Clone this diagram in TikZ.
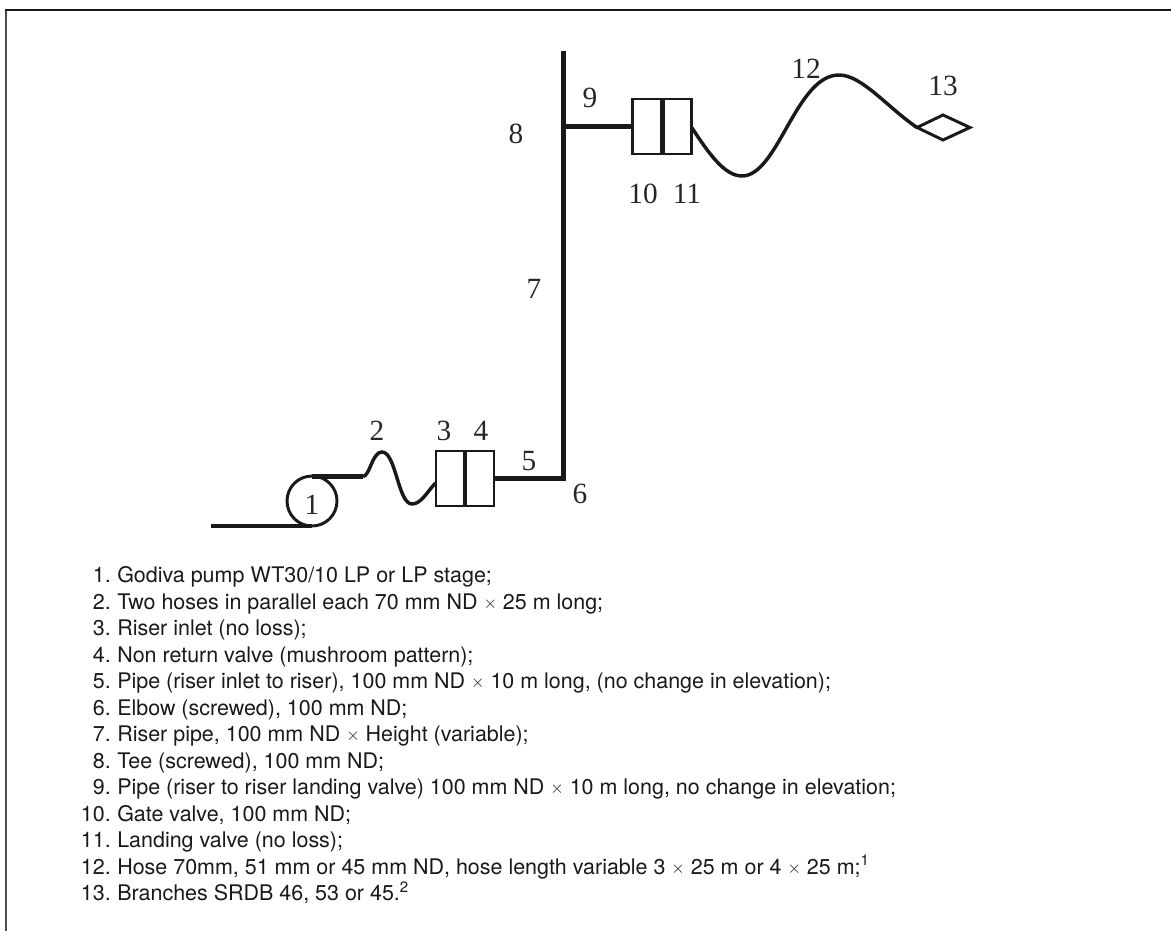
\documentclass[tikz,border=0pt]{standalone}
\usepackage{fontspec}
\usepackage{graphicx}
\setmainfont{Liberation Serif}
\newfontfamily\listfont{TeX Gyre Heros}
\newcommand{\tms}{\raisebox{0.05ex}{\scalebox{0.75}{$\times$}}}
\tikzset{
  x=0.75pt,y=-0.75pt,
  pipe/.style={line width=3.4pt,draw=black!90,line cap=butt,line join=miter},
  hose/.style={line width=2.6pt,draw=black!90},
  boxline/.style={line width=2.2pt,draw=black!90},
  num/.style={inner sep=0pt,font=\fontsize{22}{22}\selectfont,text=black!85},
  item/.style={inner sep=0pt,anchor=base west,font=\listfont\fontsize{16.1}{18}\selectfont,text=black!90},
  itemnum/.style={inner sep=0pt,anchor=base east,font=\listfont\fontsize{16.1}{18}\selectfont,text=black!90},
}
\begin{document}
\begin{tikzpicture}
\useasboundingbox (0,0) rectangle (1171,931);
\draw[line width=1.5pt,draw=black!70] (5.5,931) -- (5.5,10);
\draw[line width=1.3pt,draw=black!90] (5,10) -- (1171,10);
% pump
\node[draw=black!90,line width=2.2pt,circle,minimum size=50*0.75pt,inner sep=0pt] (pump) at (312,501) {};
\coordinate (inA) at (211,526);
\coordinate (inB) at (312,526);
\coordinate (outA) at (312,476.5);
\coordinate (outB) at (363,476.5);
\draw[pipe] (inA) -- (inB);
\draw[pipe] (outA) -- (outB);
% boxes
\node[draw=black!90,boxline,minimum width=29*0.75pt,minimum height=55*0.75pt,inner sep=0pt] (b3) at (450.5,478.5) {};
\node[draw=black!90,boxline,minimum width=29*0.75pt,minimum height=55*0.75pt,inner sep=0pt] (b4) at (479.5,478.5) {};
\node[draw=black!90,boxline,minimum width=29.5*0.75pt,minimum height=55*0.75pt,inner sep=0pt] (b10) at (647.5,126.5) {};
\node[draw=black!90,boxline,minimum width=29.5*0.75pt,minimum height=55*0.75pt,inner sep=0pt] (b11) at (677,126.5) {};
\draw[pipe] (465,451) -- (465,506);
\draw[pipe] (662.3,99) -- (662.3,154);
% hose 2
\draw[hose] (outB) .. controls (370,476) and (372,452) .. (382,452)
  .. controls (396,452) and (398,504) .. (412,504)
  .. controls (421,504) and (427,492) .. (435.5,483);
% riser
\coordinate (elbow) at (563.5,478.5);
\coordinate (top) at (563.5,51);
\coordinate (tee) at (563.5,126.5);
\draw[pipe] (b4.east) -- (elbow) -- (top);
\draw[pipe] (tee) -- (b10.west);
% hose 12
\coordinate (dw) at (917,127.5);
\draw[hose] (692,128) .. controls (708,152) and (724,176) .. (742,176)
  .. controls (778,176) and (796,75) .. (839,75)
  .. controls (862,75) and (888,108) .. (dw);
% diamond
\draw[boxline,line join=miter] (dw) -- (943,115) -- (970,127.5) -- (943,140) -- cycle;
% labels
\node[num] (n1) at (312,505) {1};
\node[num] (n2) at (377,431) {2};
\node[num] (n3) at (444,431) {3};
\node[num] (n4) at (481,431) {4};
\node[num] (n5) at (529,461) {5};
\node[num] (n6) at (580,494) {6};
\node[num] (n7) at (534,289) {7};
\node[num] (n8) at (516,134) {8};
\node[num] (n9) at (590,98) {9};
\node[num] (n10) at (643,194) {10};
\node[num] (n11) at (687,194) {11};
\node[num] (n12) at (806,69) {12};
\node[num] (n13) at (943,86) {13};
% list
\foreach \k/\yy/\tx in {
 1/582.5/{Godiva pump WT30/10 LP or LP stage;},
 2/609/{Two hoses in parallel each 70 mm ND \tms{} 25 m long;},
 3/635.5/{Riser inlet (no loss);},
 4/662/{Non return valve (mushroom pattern);},
 5/688.5/{Pipe (riser inlet to riser), 100 mm ND \tms{} 10 m long, (no change in elevation);},
 6/715/{Elbow (screwed), 100 mm ND;},
 7/741.5/{Riser pipe, 100 mm ND \tms{} Height (variable);},
 8/768/{Tee (screwed), 100 mm ND;},
 9/794.5/{Pipe (riser to riser landing valve) 100 mm ND \tms{} 10 m long, no change in elevation;},
 10/821/{Gate valve, 100 mm ND;},
 11/847.5/{Landing valve (no loss);},
 12/874/{Hose 70mm, 51 mm or 45 mm ND, hose length variable 3 \tms{} 25 m or 4 \tms{} 25 m;\textsuperscript{1}},
 13/900.5/{Branches SRDB 46, 53 or 45.\textsuperscript{2}}}{
  \node[itemnum] (k\k) at (111,\yy) {\k.};
  \node[item] (t\k) at (117,\yy) {\tx};
}
\end{tikzpicture}
\end{document}
